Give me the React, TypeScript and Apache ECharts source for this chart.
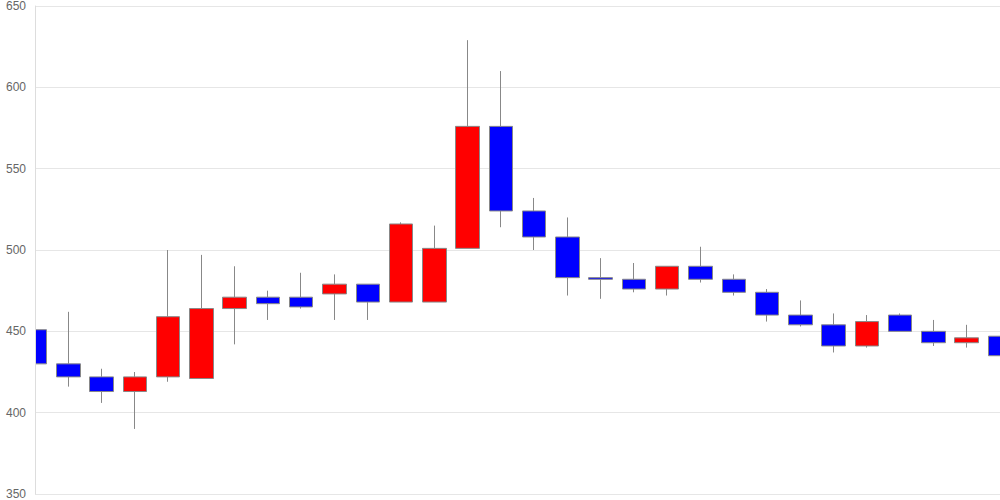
import React, { useEffect, useRef } from "react";
import * as echarts from "echarts";

const categories = [
  "1", "2", "3", "4", "5", "6", "7", "8", "9", "10",
  "11", "12", "13", "14", "15", "16", "17", "18", "19", "20",
  "21", "22", "23", "24", "25", "26", "27", "28", "29", "30",
];
const opens = [451, 430, 422, 413, 422, 421, 464, 471, 471, 473, 479, 468, 468, 501, 576, 524, 508, 483, 482, 476, 490, 482, 474, 460, 454, 441, 460, 450, 443, 447];
const closes = [430, 422, 413, 422, 459, 464, 471, 467, 465, 479, 468, 516, 501, 576, 524, 508, 483, 482, 476, 490, 482, 474, 460, 454, 441, 456, 450, 443, 446, 435];
const lows = [415, 416, 406, 390, 419, 421, 442, 457, 464, 457, 457, 468, 468, 501, 514, 500, 472, 470, 474, 472, 480, 472, 456, 453, 437, 440, 450, 441, 440, 435];
const highs = [482, 462, 427, 425, 500, 497, 490, 475, 486, 485, 479, 517, 515, 629, 610, 532, 520, 495, 492, 490, 502, 485, 476, 469, 461, 460, 461, 457, 454, 447];
const yTicks = { min: 350, max: 650, interval: 50 };

export default function App() {
  const ref = useRef<HTMLDivElement>(null);
  useEffect(() => {
    if (!ref.current) return;
    const chart = echarts.init(ref.current, null, { renderer: "svg" });
    const data = opens.map((o, i) => [o, closes[i], lows[i], highs[i]]);
    chart.setOption({
      animation: false,
      grid: { left: 35, right: 0, top: 6, bottom: 6 },
      xAxis: {
        type: "category",
        data: categories,
        boundaryGap: false,
        axisLine: { show: false },
        axisTick: { show: false },
        axisLabel: { show: false },
        splitLine: { show: false },
      },
      yAxis: [
        {
          type: "value",
          min: yTicks.min,
          max: yTicks.max,
          interval: yTicks.interval,
          z: 10,
          axisLine: { show: true, lineStyle: { color: "#dddddd" } },
          axisTick: { show: false },
          axisLabel: { color: "#666666", fontSize: 12, fontFamily: "Liberation Sans, Arial, sans-serif", margin: 9 },
          splitLine: { show: false },
        },
        {
          type: "value",
          min: yTicks.min,
          max: yTicks.max,
          interval: yTicks.interval,
          position: "left",
          z: 0,
          axisLine: { show: false },
          axisTick: { show: false },
          axisLabel: { show: false },
          splitLine: { show: true, lineStyle: { color: "#e6e6e6" } },
        },
      ],
      graphic: {
        elements: [
          {
            type: "rect",
            z: 5,
            shape: { x: 0, y: 0, width: 35, height: 500 },
            style: { fill: "#ffffff" },
          },
        ],
      },
      series: [
        {
          type: "candlestick",
          data,
          yAxisIndex: 0,
          barWidth: 24,
          z: 2,
          itemStyle: {
            color: "#ff0000",
            color0: "#0000ff",
            borderColor: "#888888",
            borderColor0: "#888888",
            borderWidth: 1,
          },
        },
      ],
    });
    return () => chart.dispose();
  }, []);
  return (
    <div
      ref={ref}
      style={{ position: "fixed", left: 0, top: 0, width: 1000, height: 500, background: "#fff" }}
    />
  );
}
